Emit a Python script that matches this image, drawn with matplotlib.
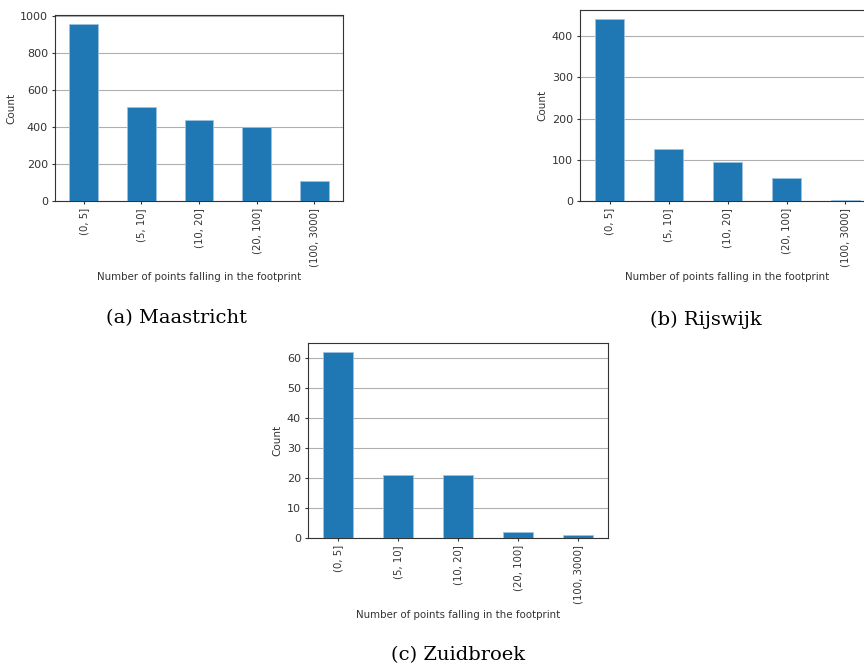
import matplotlib.pyplot as plt

# Footprint point-count bins and counts per city
bins = ['(0, 5]', '(5, 10]', '(10, 20]', '(20, 100]', '(100, 3000]']
maastricht = [960, 510, 440, 402, 107]
rijswijk = [441, 125, 95, 55, 3]
zuidbroek = [62, 21, 21, 2, 1]

captions = ['(a) Maastricht', '(b) Rijswijk', '(c) Zuidbroek']

FIG_W, FIG_H = 864, 669


def px_axes(fig, left, top, right, bottom):
    """Add axes from pixel box (origin top-left)."""
    return fig.add_axes([left / FIG_W, (FIG_H - bottom) / FIG_H,
                         (right - left) / FIG_W, (bottom - top) / FIG_H])


def draw_counts(ax, counts):
    ax.bar(range(len(bins)), counts, width=0.5, color='#1f77b4',
           edgecolor='#9cc3e0', linewidth=0.6, zorder=3)
    ax.set_xlim(-0.5, len(bins) - 0.5)
    ax.set_ylim(0, max(counts) * 1.05)
    ax.set_xticks(range(len(bins)))
    ax.set_xticklabels(bins, rotation=90, fontsize=7.3)
    ax.grid(axis='y', color='#b0b0b0', linewidth=0.8, zorder=0)
    ax.set_axisbelow(True)
    ax.set_ylabel('Count', fontsize=7.5, color='#333333', labelpad=3)
    ax.set_xlabel('Number of points falling in the footprint', fontsize=7.4,
                  color='#333333', labelpad=4)
    ax.tick_params(axis='y', labelsize=8)
    ax.tick_params(colors='#333333', length=2.5, width=0.8, pad=2.5)
    for s in ax.spines.values():
        s.set_color('#333333')
        s.set_linewidth(0.8)


fig = plt.figure(figsize=(FIG_W / 100, FIG_H / 100), dpi=100)

ax_a = px_axes(fig, 55, 15, 343, 201)
draw_counts(ax_a, maastricht)
ax_b = px_axes(fig, 580, 10, 875, 201)
draw_counts(ax_b, rijswijk)
ax_c = px_axes(fig, 308, 343, 608, 538)
draw_counts(ax_c, zuidbroek)

cap_font = dict(fontsize=14, family='DejaVu Serif', ha='center', va='center')
fig.text(176 / FIG_W, 1 - 318 / FIG_H, captions[0], **cap_font)
fig.text(706 / FIG_W, 1 - 320 / FIG_H, captions[1], **cap_font)
fig.text(458 / FIG_W, 1 - 655 / FIG_H, captions[2], **cap_font)

fig.savefig('out.png', dpi=100)
